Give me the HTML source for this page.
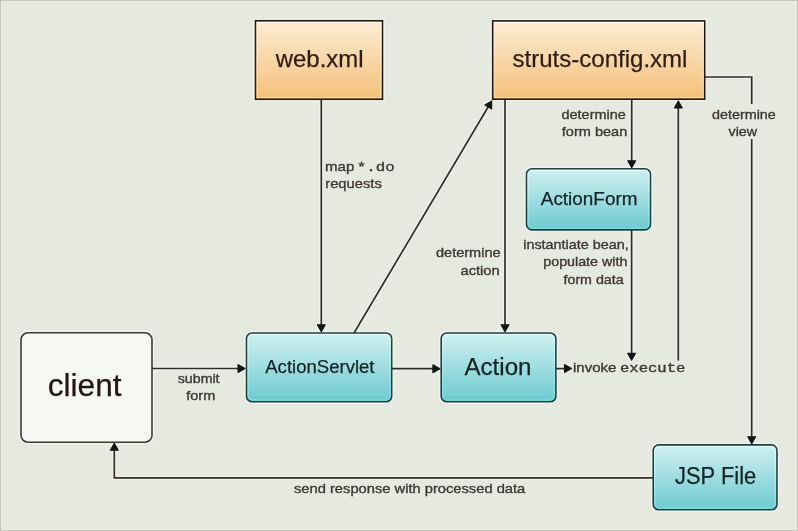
<!DOCTYPE html>
<html><head><meta charset="utf-8">
<style>
html,body{margin:0;padding:0;background:#e6e9e0;}
body{width:798px;height:531px;overflow:hidden;}
svg{display:block;position:absolute;left:0;top:0;}
.tx{will-change:transform;}
text{font-family:"Liberation Sans",sans-serif;}
.mono{font-family:"Liberation Mono",monospace;}
</style></head>
<body>
<svg width="798" height="531" viewBox="0 0 798 531">
<defs>
<linearGradient id="og" x1="0" y1="0" x2="0" y2="1">
<stop offset="0" stop-color="#fdecd3"/>
<stop offset="1" stop-color="#f4c07a"/>
</linearGradient>
<linearGradient id="tg" x1="0" y1="0" x2="0" y2="1">
<stop offset="0" stop-color="#d0f0f0"/>
<stop offset="1" stop-color="#6ccad0"/>
</linearGradient>
<linearGradient id="ogi" x1="0" y1="0" x2="0" y2="1">
<stop offset="0" stop-color="#fffaf0"/>
<stop offset="1" stop-color="#fcd9a0"/>
</linearGradient>
<linearGradient id="tgi" x1="0" y1="0" x2="0" y2="1">
<stop offset="0" stop-color="#eafcfc"/>
<stop offset="1" stop-color="#86dfe2"/>
</linearGradient>
</defs>
<rect x="0" y="0" width="798" height="531" fill="#e6e9e0"/>
<rect x="1" y="1" width="796" height="529" fill="none" stroke="#eff2ea" stroke-width="1"/>
<rect x="0.5" y="0.5" width="797" height="530" fill="none" stroke="#c1c5bc" stroke-width="1"/>

<!-- line halos -->
<g stroke="#f0f3eb" stroke-width="4.2" fill="none" stroke-linecap="butt">
<line x1="321.3" y1="99" x2="321.3" y2="326"/>
<line x1="354" y1="333" x2="489" y2="105.5"/>
<line x1="505" y1="99" x2="505" y2="326"/>
<line x1="631.7" y1="99" x2="631.7" y2="163"/>
<line x1="631.6" y1="229.5" x2="631.6" y2="355"/>
<line x1="678.3" y1="360.7" x2="678.3" y2="106"/>
<polyline points="705,77 751.7,77 751.7,104"/>
<line x1="751.7" y1="139" x2="751.7" y2="438"/>
<line x1="152" y1="368.5" x2="240" y2="368.5"/>
<line x1="391.7" y1="368.7" x2="435" y2="368.7"/>
<line x1="556" y1="368.6" x2="566" y2="368.6"/>
<polyline points="653,477.8 114.3,477.8 114.3,448"/>
</g>
<g fill="#f0f3eb" stroke="#f0f3eb" stroke-width="3.2" stroke-linejoin="round">
<polygon points="321.30,331.80 317.30,324.80 325.30,324.80"/>
<polygon points="505.00,331.80 501.00,324.80 509.00,324.80"/>
<polygon points="631.70,167.80 627.70,160.80 635.70,160.80"/>
<polygon points="631.60,360.20 627.60,353.20 635.60,353.20"/>
<polygon points="678.30,100.90 682.30,107.90 674.30,107.90"/>
<polygon points="751.70,443.70 747.70,436.70 755.70,436.70"/>
<polygon points="114.30,443.20 118.30,450.20 110.30,450.20"/>
<polygon points="245.00,368.50 238.00,372.50 238.00,364.50"/>
<polygon points="439.90,368.70 432.90,372.70 432.90,364.70"/>
<polygon points="571.50,368.60 564.50,372.60 564.50,364.60"/>
<polygon points="491.80,100.90 491.66,108.96 484.79,104.88"/>
</g>
<!-- box halos -->
<g fill="none" stroke="#f1f4ec" stroke-width="4.5">
<rect x="255.5" y="20.75" width="127" height="78.5"/>
<rect x="492.7" y="20.9" width="212" height="78.3"/>
<rect x="526.5" y="168.8" width="124" height="61.1" rx="6"/>
<rect x="246.5" y="333" width="145.2" height="68.7" rx="6"/>
<rect x="441.2" y="333" width="114.7" height="68.7" rx="6"/>
<rect x="21" y="332.8" width="131" height="109.4" rx="7"/>
<rect x="653.2" y="444.9" width="123.8" height="64.9" rx="6"/>
</g>
<!-- lines -->
<g stroke="#2d2e2a" stroke-width="1.7" fill="none">
<line x1="321.3" y1="99" x2="321.3" y2="326"/>
<line x1="354" y1="333" x2="489" y2="105.5"/>
<line x1="505" y1="99" x2="505" y2="326"/>
<line x1="631.7" y1="99" x2="631.7" y2="163"/>
<line x1="631.6" y1="229.5" x2="631.6" y2="355"/>
<line x1="678.3" y1="360.7" x2="678.3" y2="106"/>
<polyline points="705,77 751.7,77 751.7,104"/>
<line x1="751.7" y1="139" x2="751.7" y2="438"/>
<line x1="152" y1="368.5" x2="240" y2="368.5"/>
<line x1="391.7" y1="368.7" x2="435" y2="368.7"/>
<line x1="556" y1="368.6" x2="566" y2="368.6"/>
<polyline points="653,477.8 114.3,477.8 114.3,448" stroke="#3a2d26"/>
</g>
<!-- arrowheads -->
<g fill="#141414" stroke="#141414" stroke-width="1.1" stroke-linejoin="round">
<polygon points="321.30,331.80 317.30,324.80 325.30,324.80"/>
<polygon points="505.00,331.80 501.00,324.80 509.00,324.80"/>
<polygon points="631.70,167.80 627.70,160.80 635.70,160.80"/>
<polygon points="631.60,360.20 627.60,353.20 635.60,353.20"/>
<polygon points="678.30,100.90 682.30,107.90 674.30,107.90"/>
<polygon points="751.70,443.70 747.70,436.70 755.70,436.70"/>
<polygon points="114.30,443.20 118.30,450.20 110.30,450.20"/>
<polygon points="245.00,368.50 238.00,372.50 238.00,364.50"/>
<polygon points="439.90,368.70 432.90,372.70 432.90,364.70"/>
<polygon points="571.50,368.60 564.50,372.60 564.50,364.60"/>
<polygon points="491.80,100.90 491.66,108.96 484.79,104.88"/>
</g>

<!-- boxes -->
<g stroke-width="1.6">
<rect x="255.5" y="20.75" width="127" height="78.5" fill="url(#og)" stroke="#221a12"/>
<rect x="492.7" y="20.9" width="212" height="78.3" fill="url(#og)" stroke="#221a12"/>
<rect x="526.5" y="168.8" width="124" height="61.1" rx="5.5" fill="url(#tg)" stroke="#1f4343"/>
<rect x="246.5" y="333" width="145.2" height="68.7" rx="5.5" fill="url(#tg)" stroke="#1f4343"/>
<rect x="441.2" y="333" width="114.7" height="68.7" rx="5.5" fill="url(#tg)" stroke="#1f4343"/>
<rect x="21" y="332.8" width="131" height="109.4" rx="7" fill="#f5f8f3" stroke="#383b36"/>
<rect x="653.2" y="444.9" width="123.8" height="64.9" rx="5.5" fill="url(#tg)" stroke="#1f4343"/>
</g>
<!-- inner highlights -->
<g fill="none" stroke-width="0.9">
<rect x="257.2" y="22.45" width="123.6" height="75.1" stroke="url(#ogi)"/>
<rect x="494.4" y="22.6" width="208.6" height="74.9" stroke="url(#ogi)"/>
<rect x="528.2" y="170.5" width="120.6" height="57.7" rx="4.5" stroke="url(#tgi)"/>
<rect x="248.2" y="334.7" width="141.8" height="65.3" rx="4.5" stroke="url(#tgi)"/>
<rect x="442.9" y="334.7" width="111.3" height="65.3" rx="4.5" stroke="url(#tgi)"/>
<rect x="654.9" y="446.6" width="120.4" height="61.5" rx="4.5" stroke="url(#tgi)"/>
</g>

</svg>
<svg class="tx" width="798" height="531" viewBox="0 0 798 531">
<text x="275.75" y="66.6" font-size="24" fill="#2e1e12" textLength="87.78" lengthAdjust="spacingAndGlyphs" stroke="#2e1e12" stroke-width="0.25">web.xml</text>
<text x="512.5" y="66.7" font-size="24" fill="#2e1e12" textLength="174.95" lengthAdjust="spacingAndGlyphs" stroke="#2e1e12" stroke-width="0.25">struts-config.xml</text>
<text x="540.75" y="205.0" font-size="18.8" fill="#142424" textLength="96.77" lengthAdjust="spacingAndGlyphs" stroke="#142424" stroke-width="0.25">ActionForm</text>
<text x="47.75" y="395.7" font-size="31.5" fill="#241614" textLength="73.8" lengthAdjust="spacingAndGlyphs" stroke="#241614" stroke-width="0.25">client</text>
<text x="265.25" y="373.3" font-size="18.5" fill="#142424" textLength="109.25" lengthAdjust="spacingAndGlyphs" stroke="#142424" stroke-width="0.25">ActionServlet</text>
<text x="464.5" y="374.5" font-size="24.2" fill="#142424" textLength="66.98" lengthAdjust="spacingAndGlyphs" stroke="#142424" stroke-width="0.25">Action</text>
<text x="675.0" y="483.9" font-size="23" fill="#142424" textLength="81.22" lengthAdjust="spacingAndGlyphs" stroke="#142424" stroke-width="0.25">JSP File</text>
<text x="325.0" y="170.5" font-size="13" fill="#3e3833" textLength="29.3" lengthAdjust="spacingAndGlyphs" stroke="#3e3833" stroke-width="0.35">map</text>
<text x="356.75" y="170.5" font-size="12" fill="#3e3833" textLength="38.06" lengthAdjust="spacingAndGlyphs" class="mono" stroke="#3e3833" stroke-width="0.35">*.do</text>
<text x="325.25" y="187.6" font-size="13" fill="#3e3833" textLength="56.62" lengthAdjust="spacingAndGlyphs" stroke="#3e3833" stroke-width="0.35">requests</text>
<text x="561.5" y="118.5" font-size="13" fill="#3e3833" textLength="64.31" lengthAdjust="spacingAndGlyphs" stroke="#3e3833" stroke-width="0.35">determine</text>
<text x="561.75" y="135.7" font-size="13" fill="#3e3833" textLength="65.55" lengthAdjust="spacingAndGlyphs" stroke="#3e3833" stroke-width="0.35">form bean</text>
<text x="712.0" y="118.5" font-size="13" fill="#3e3833" textLength="63.81" lengthAdjust="spacingAndGlyphs" stroke="#3e3833" stroke-width="0.35">determine</text>
<text x="728.5" y="135.6" font-size="13" fill="#3e3833" textLength="28.52" lengthAdjust="spacingAndGlyphs" stroke="#3e3833" stroke-width="0.35">view</text>
<text x="436.0" y="257.3" font-size="13" fill="#3e3833" textLength="64.56" lengthAdjust="spacingAndGlyphs" stroke="#3e3833" stroke-width="0.35">determine</text>
<text x="460.5" y="274.5" font-size="13" fill="#3e3833" textLength="39.2" lengthAdjust="spacingAndGlyphs" stroke="#3e3833" stroke-width="0.35">action</text>
<text x="523.25" y="248.7" font-size="13" fill="#3e3833" textLength="105.41" lengthAdjust="spacingAndGlyphs" stroke="#3e3833" stroke-width="0.35">instantiate bean,</text>
<text x="543.25" y="265.8" font-size="13" fill="#3e3833" textLength="84.13" lengthAdjust="spacingAndGlyphs" stroke="#3e3833" stroke-width="0.35">populate with</text>
<text x="563.5" y="283.8" font-size="13" fill="#3e3833" textLength="60.17" lengthAdjust="spacingAndGlyphs" stroke="#3e3833" stroke-width="0.35">form data</text>
<text x="177.75" y="383.2" font-size="13" fill="#3e3833" textLength="41.8" lengthAdjust="spacingAndGlyphs" stroke="#3e3833" stroke-width="0.35">submit</text>
<text x="186.25" y="400.4" font-size="13" fill="#3e3833" textLength="29.0" lengthAdjust="spacingAndGlyphs" stroke="#3e3833" stroke-width="0.35">form</text>
<text x="573.0" y="372.0" font-size="13" fill="#3e3833" textLength="43.33" lengthAdjust="spacingAndGlyphs" stroke="#3e3833" stroke-width="0.35">invoke</text>
<text x="620.0" y="372.0" font-size="12" fill="#3e3833" textLength="65.42" lengthAdjust="spacingAndGlyphs" class="mono" stroke="#3e3833" stroke-width="0.35">execute</text>
<text x="294.0" y="492.6" font-size="13" fill="#3e3833" textLength="231.27" lengthAdjust="spacingAndGlyphs" stroke="#3e3833" stroke-width="0.35">send response with processed data</text>

</svg>
</body></html>
